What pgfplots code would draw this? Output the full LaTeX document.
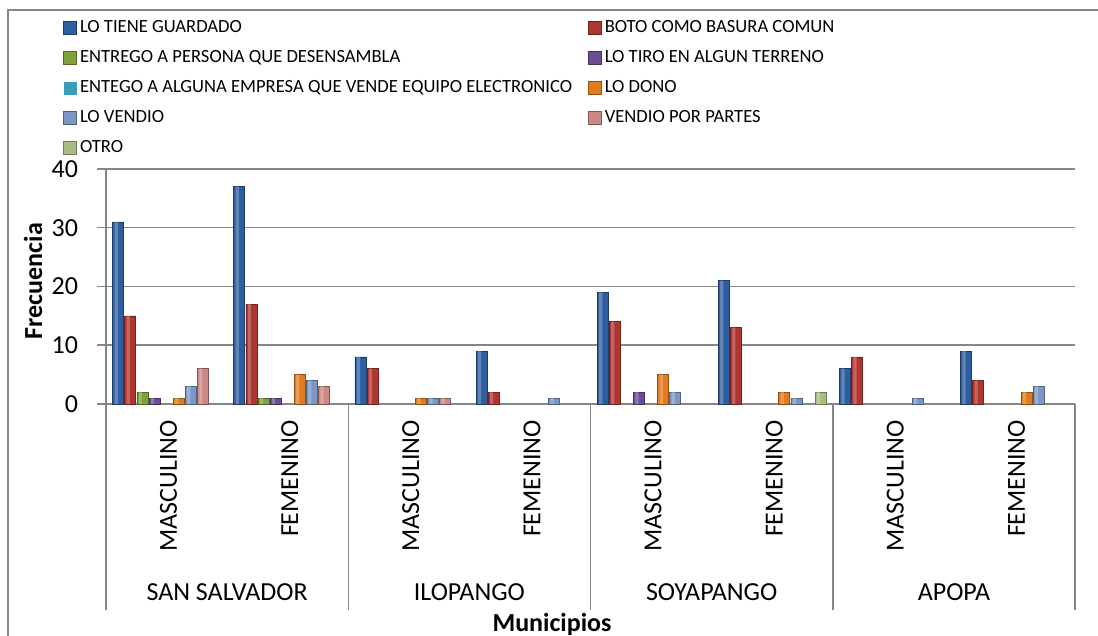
\documentclass[border=0pt]{standalone}
\usepackage{pgfplots}
\usepackage{pgfplotstable}
\pgfplotsset{compat=1.18}
\usepackage{fontspec}
\setmainfont{Carlito}

\definecolor{gridgray}{HTML}{868686}
\definecolor{cA}{HTML}{2D5E9F}
\definecolor{cB}{HTML}{B03430}
\definecolor{cC}{HTML}{7FA13B}
\definecolor{cD}{HTML}{6B4D94}
\definecolor{cE}{HTML}{3A9DBB}
\definecolor{cF}{HTML}{E27B1D}
\definecolor{cG}{HTML}{7C97C6}
\definecolor{cH}{HTML}{CC8886}
\definecolor{cI}{HTML}{A9BD82}

% frequencies per municipality and sex (x = 0.5 ... 7.5)
\pgfplotstableread{
x   guard basura desens terreno empresa dono vendio partes otro
0.5 31    15     2      1       0       1    3      6      0
1.5 37    17     1      1       0       5    4      3      0
2.5 8     6      0      0       0       1    1      1      0
3.5 9     2      0      0       0       0    1      0      0
4.5 19    14     0      2       0       5    2      0      0
5.5 21    13     0      0       0       2    1      0      2
6.5 6     8      0      0       0       0    1      0      0
7.5 9     4      0      0       0       2    3      0      0
}\datos

% bar look: solid fill with a darker rim, plus a lighter stripe on top
\tikzset{bevel/.style={draw=#1!65!black, line width=0.35pt, fill=#1},
         shine/.style={draw=none, fill=#1!55!white, fill opacity=0.55}}
\pgfplotsset{
  brillo/.style n args={2}{forget plot, shine=#1, bar width=1.6pt, bar shift=#2-1pt},
}

\newcommand{\fbig}{\fontsize{13}{15.6}\selectfont}
\newcommand{\fleg}{\fontsize{9.3}{11}\selectfont}

\begin{document}
\begin{tikzpicture}
\useasboundingbox (0,0) rectangle (549pt,318pt);
% chart frame
\draw[gridgray, line width=0.75pt] (4pt,0) -- (4pt,313pt) -- (549pt,313pt);

\begin{axis}[
    at={(53pt,116pt)}, anchor=south west,
    scale only axis, width=484.5pt, height=117.5pt,
    xmin=0, xmax=8, ymin=0, ymax=40,
    clip=false,
    axis lines=left,
    axis line style={-, draw=gridgray, line width=0.75pt},
    ytick={0,10,...,40},
    ymajorgrids,
    grid style={gridgray, line width=0.75pt},
    tick align=outside,
    major tick length=4.5pt,
    ytick style={gridgray, line width=0.75pt},
    xtick style={draw=none},
    xtick={0.5,1.5,...,7.5},
    xticklabels={MASCULINO,FEMENINO,MASCULINO,FEMENINO,MASCULINO,FEMENINO,MASCULINO,FEMENINO},
    xticklabel style={rotate=90, anchor=east, font=\fbig, yshift=-1pt},
    yticklabel style={font=\fbig, xshift=-6pt},
    /pgf/number format/assume math mode=true,
    ybar, bar width=5.5pt,
    y filter/.expression={y==0 ? nan : y},
    unbounded coords=discard,
    xlabel={\textbf{Municipios}},
    xlabel style={at={(axis description cs:0.4603,-0.966)}, anchor=base, font=\fbig},
    ylabel={\textbf{Frecuencia}},
    ylabel style={at={(axis description cs:-0.0753,0.523)}, anchor=center, font=\fbig},
    legend columns=2,
    legend cell align=left,
    legend image code/.code={\path[#1] (0pt,-3.25pt) rectangle (6.5pt,3.25pt);},
    legend style={at={(-0.0444,1.6357)}, anchor=north west, draw=none, fill=none,
        inner sep=0pt, font=\fleg, column sep=1.5pt, row sep=7pt,
        /tikz/column 2/.style={column sep=8pt},
        nodes={inner sep=0pt, text height=6.2pt, text depth=1.8pt}},
]
\addplot[bevel=cA, bar shift=-24.2pt] table[y=guard] {\datos};
\addlegendentry{LO TIENE GUARDADO}
\addplot[bevel=cB, bar shift=-18.15pt] table[y=basura] {\datos};
\addlegendentry{BOTO COMO BASURA COMUN}
\addplot[bevel=cC, bar shift=-12.1pt] table[y=desens] {\datos};
\addlegendentry{ENTREGO A PERSONA QUE DESENSAMBLA}
\addplot[bevel=cD, bar shift=-6.05pt] table[y=terreno] {\datos};
\addlegendentry{LO TIRO EN ALGUN TERRENO}
% all zero: kept (unfiltered, no outline) so that it keeps its legend entry
\addplot[fill=cE, draw=none, bar shift=0pt, y filter/.code={}] table[y=empresa] {\datos};
\addlegendentry{ENTEGO A ALGUNA EMPRESA QUE VENDE EQUIPO ELECTRONICO}
\addplot[bevel=cF, bar shift=6.05pt] table[y=dono] {\datos};
\addlegendentry{LO DONO}
\addplot[bevel=cG, bar shift=12.1pt] table[y=vendio] {\datos};
\addlegendentry{LO VENDIO}
\addplot[bevel=cH, bar shift=18.15pt] table[y=partes] {\datos};
\addlegendentry{VENDIO POR PARTES}
\addplot[bevel=cI, bar shift=24.2pt] table[y=otro] {\datos};
\addlegendentry{OTRO}

% lighter stripe inside each bar
\addplot[brillo={cA}{-24.2pt}] table[y=guard] {\datos};
\addplot[brillo={cB}{-18.15pt}] table[y=basura] {\datos};
\addplot[brillo={cC}{-12.1pt}] table[y=desens] {\datos};
\addplot[brillo={cD}{-6.05pt}] table[y=terreno] {\datos};
\addplot[brillo={cF}{6.05pt}] table[y=dono] {\datos};
\addplot[brillo={cG}{12.1pt}] table[y=vendio] {\datos};
\addplot[brillo={cH}{18.15pt}] table[y=partes] {\datos};
\addplot[brillo={cI}{24.2pt}] table[y=otro] {\datos};

% group separators below the category axis
\pgfplotsinvokeforeach{0,2,4,6,8}{
  \draw[gridgray, line width=0.75pt] (axis cs:#1,0) -- ++(0pt,-103pt);
}
\node[font=\fbig] at ([yshift=-94pt]axis cs:1,0) {SAN SALVADOR};
\node[font=\fbig] at ([yshift=-94pt]axis cs:3,0) {ILOPANGO};
\node[font=\fbig] at ([yshift=-94pt]axis cs:5,0) {SOYAPANGO};
\node[font=\fbig] at ([yshift=-94pt]axis cs:7,0) {APOPA};
\end{axis}
\end{tikzpicture}
\end{document}
